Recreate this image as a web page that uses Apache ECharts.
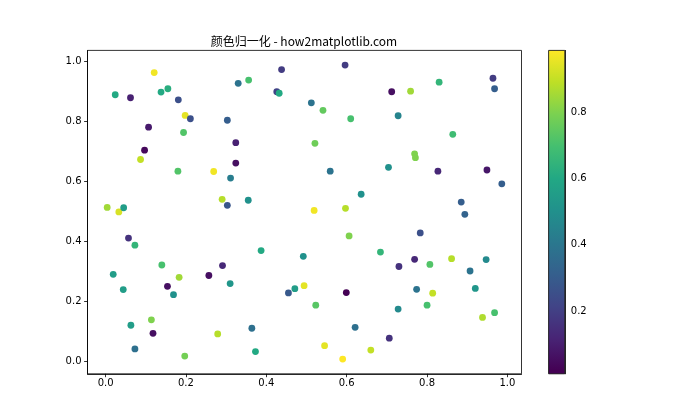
<!DOCTYPE html>
<html>
<head>
<meta charset="utf-8">
<script src="https://cdn.jsdelivr.net/npm/echarts@6/dist/echarts.min.js"></script>
<style>html,body{margin:0;padding:0;background:#fff}#c{width:700px;height:420px}</style>
</head>
<body>
<div id="c"></div>
<script>
// ---- data ----
const titleText = '颜色归一化 - how2matplotlib.com';
const xs = [0.121,0.024,0.062,0.138,0.155,0.181,0.198,0.211,0.107,0.194,
            0.097,0.087,0.180,0.269,0.330,0.356,0.303,0.324,0.324,0.311,
            0.290,0.303,0.355,0.004,0.033,0.045,0.438,0.596,0.426,0.432,
            0.712,0.512,0.541,0.610,0.521,0.559,0.704,0.636,0.519,0.597,
            0.759,0.830,0.964,0.968,0.728,0.864,0.769,0.771,0.827,0.949,
            0.986,0.885,0.894,0.783,0.684,0.769,0.730,0.807,0.861,0.947,
            0.907,0.774,0.814,0.920,0.728,0.800,0.938,0.968,0.706,0.057,
            0.073,0.140,0.019,0.183,0.257,0.291,0.310,0.044,0.154,0.169,
            0.114,0.063,0.118,0.279,0.073,0.197,0.606,0.387,0.492,0.455,
            0.471,0.494,0.599,0.523,0.364,0.621,0.373,0.545,0.660,0.590];
const ys = [0.963,0.889,0.879,0.898,0.909,0.872,0.820,0.809,0.781,0.763,
            0.704,0.673,0.634,0.633,0.927,0.938,0.804,0.729,0.661,0.611,
            0.540,0.520,0.537,0.513,0.498,0.512,0.973,0.988,0.899,0.894,
            0.899,0.862,0.837,0.809,0.727,0.634,0.647,0.557,0.503,0.510,
            0.901,0.931,0.944,0.909,0.819,0.757,0.692,0.679,0.634,0.638,
            0.592,0.531,0.490,0.428,0.364,0.340,0.316,0.323,0.342,0.339,
            0.301,0.240,0.227,0.243,0.174,0.187,0.146,0.162,0.077,0.411,
            0.387,0.321,0.290,0.280,0.286,0.319,0.259,0.239,0.250,0.222,
            0.138,0.120,0.093,0.091,0.041,0.017,0.418,0.369,0.350,0.228,
            0.242,0.252,0.229,0.187,0.110,0.113,0.032,0.052,0.037,0.007];
const cs = [0.97,0.60,0.10,0.60,0.62,0.25,0.95,0.25,0.08,0.72,
            0.03,0.90,0.72,0.97,0.38,0.70,0.30,0.10,0.05,0.42,
            0.88,0.27,0.50,0.85,0.93,0.55,0.18,0.18,0.20,0.60,
            0.05,0.38,0.75,0.70,0.77,0.38,0.50,0.50,0.97,0.88,
            0.85,0.65,0.18,0.30,0.45,0.68,0.80,0.80,0.12,0.07,
            0.30,0.30,0.32,0.25,0.65,0.12,0.15,0.72,0.88,0.47,
            0.38,0.38,0.90,0.52,0.47,0.70,0.87,0.70,0.15,0.15,
            0.65,0.70,0.55,0.85,0.05,0.12,0.52,0.55,0.05,0.50,
            0.80,0.55,0.05,0.88,0.37,0.78,0.80,0.60,0.50,0.28,
            0.55,0.95,0.01,0.73,0.37,0.37,0.60,0.95,0.90,0.988];
const xTicks = [0.0,0.2,0.4,0.6,0.8,1.0];
const yTicks = [0.0,0.2,0.4,0.6,0.8,1.0];
const cbarTicks = [0.2,0.4,0.6,0.8];
const viridis = ['#440154','#482475','#414487','#355f8d','#2a788e','#21918c',
                 '#22a884','#44bf70','#7ad151','#bddf26','#fde725'];

const cmin = Math.min(...cs), cmax = Math.max(...cs);
const points = xs.map((x, i) => [x, ys[i], cs[i]]);

// gradient for the colour bar (bar shape runs from 0 up to cmax)
const gradStops = viridis.map((col, i) => {
  const t = i / (viridis.length - 1);
  const v = cmin + t * (cmax - cmin);
  return { offset: 1 - v / cmax, color: col };
});
gradStops.push({ offset: 1, color: viridis[0] });
gradStops.sort((a, b) => a.offset - b.offset);

const font = '"DejaVu Sans", "Noto Sans CJK SC", sans-serif';
const tickFmt = v => Number(v).toFixed(1);

const chart = echarts.init(document.getElementById('c'), null, { renderer: 'canvas' });
chart.setOption({
  animation: false,
  backgroundColor: '#fff',
  textStyle: { fontFamily: font },
  title: {
    text: titleText,
    left: 299, top: 30, textAlign: 'center',
    textStyle: { fontSize: 12, fontWeight: 'normal', color: '#000', fontFamily: '"Noto Sans CJK SC", sans-serif' }
  },
  grid: [
    { left: 87.5, right: 178.5, top: 50.4, bottom: 46.2, show: true, borderColor: '#000', borderWidth: 0.8, backgroundColor: 'transparent', z: 5 },
    { left: 548.6, width: 16.2, top: 50.4, bottom: 46.2, show: true, borderColor: '#000', borderWidth: 0.8, backgroundColor: 'transparent', z: 5 }
  ],
  visualMap: {
    type: 'continuous', show: false, seriesIndex: 0, dimension: 2,
    min: cmin, max: cmax, inRange: { color: viridis }
  },
  xAxis: [
    {
      type: 'value', gridIndex: 0, min: -0.045, max: 1.035,
      axisLine: { onZero: false, lineStyle: { color: '#000', width: 0.8 } },
      axisTick: { customValues: xTicks, length: 3.4, lineStyle: { color: '#000', width: 0.8 } },
      axisLabel: { customValues: xTicks, formatter: tickFmt, fontSize: 10, color: '#000', margin: 5 },
      splitLine: { show: false }
    },
    {
      type: 'category', gridIndex: 1, data: ['c'], show: false,
      boundaryGap: false
    }
  ],
  yAxis: [
    {
      type: 'value', gridIndex: 0, min: -0.042, max: 1.037,
      axisLine: { onZero: false, lineStyle: { color: '#000', width: 0.8 } },
      axisTick: { customValues: yTicks, length: 3.4, lineStyle: { color: '#000', width: 0.8 } },
      axisLabel: { customValues: yTicks, formatter: tickFmt, fontSize: 10, color: '#000', margin: 6 },
      splitLine: { show: false }
    },
    {
      type: 'value', gridIndex: 1, min: cmin, max: cmax, position: 'right',
      axisLine: { show: true, onZero: false, lineStyle: { color: '#000', width: 0.8 } },
      axisTick: { customValues: cbarTicks, length: 3.4, lineStyle: { color: '#000', width: 0.8 } },
      axisLabel: { customValues: cbarTicks, formatter: tickFmt, fontSize: 10, color: '#000', margin: 6 },
      splitLine: { show: false }
    }
  ],
  series: [
    {
      type: 'scatter', xAxisIndex: 0, yAxisIndex: 0,
      symbolSize: 6.8, data: points, z: 3,
      itemStyle: { opacity: 1 },
      emphasis: { disabled: true }
    },
    {
      type: 'bar', xAxisIndex: 1, yAxisIndex: 1,
      data: [cmax], barWidth: '100%', clip: true,
      itemStyle: { color: new echarts.graphic.LinearGradient(0, 0, 0, 1, gradStops.map(s => ({ offset: s.offset, color: s.color }))) }
    }
  ]
});
</script>
</body>
</html>
